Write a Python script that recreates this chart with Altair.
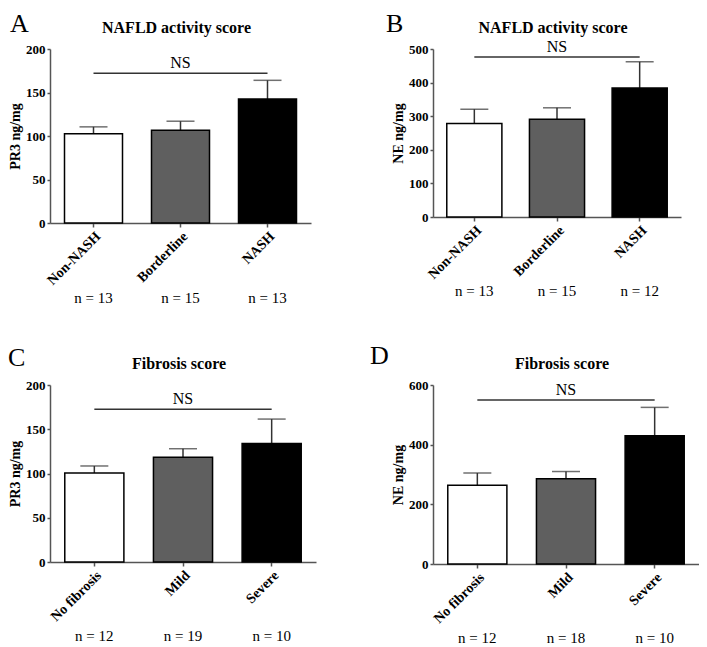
import altair as alt
import pandas as pd

SERIF = "Liberation Serif"

nafld_cats = ["Non-NASH", "Borderline", "NASH"]
fib_cats = ["No fibrosis", "Mild", "Severe"]

a_mean = [102.5, 106.5, 142.5]
a_top = [110.5, 117.0, 164.0]
a_n = [13, 15, 13]
a_ns = 172

b_mean = [278, 291, 384]
b_top = [321, 325, 462]
b_n = [13, 15, 12]
b_ns = 476

c_mean = [100.5, 118.5, 134.0]
c_top = [108.5, 128.0, 161.5]
c_n = [12, 19, 10]
c_ns = 172.5

d_mean = [264, 286, 430]
d_top = [305, 310, 525]
d_n = [12, 18, 10]
d_ns = 550

fills = ["white", "#5f5f5f", "black"]


def panel(cats, means, tops, ns, ns_level, ymax, ystep, ytitle, title, letter,
          width, height, letter_dx, letter_dy, n_off):
    df = pd.DataFrame({"cat": cats, "mean": means, "top": tops,
                       "n": [f"n = {v}" for v in ns]})
    ns_df = pd.DataFrame({"x1": [cats[0]], "x2": [cats[-1]], "mid": [cats[1]],
                          "level": [ns_level]})
    xscale = alt.Scale(domain=cats, paddingInner=1 / 3, paddingOuter=1 / 6)
    xaxis = alt.Axis(title=None, labelAngle=-45, labelFont=SERIF, labelFontWeight="bold",
                     labelFontSize=14, labelColor="black", tickSize=4, tickColor="#555",
                     domainColor="#555", domainWidth=1.5, tickWidth=1.5, labelPadding=2)
    yscale = alt.Scale(domain=[0, ymax], nice=False)
    yaxis = alt.Axis(title=ytitle, values=list(range(0, ymax + 1, ystep)), labelFont=SERIF,
                     labelFontWeight="bold", labelFontSize=13, labelColor="black",
                     titleFont=SERIF, titleFontWeight="bold", titleFontSize=14,
                     titleColor="black", tickSize=3, tickColor="#555", domainColor="#555",
                     domainWidth=1.5, tickWidth=1.5, labelPadding=2, titlePadding=3,
                     grid=False)
    x = alt.X("cat:N", scale=xscale, axis=xaxis)
    base = alt.Chart(df)
    err = base.mark_rule(color="#333", strokeWidth=1.5).encode(
        x=x, y=alt.Y("mean:Q", scale=yscale, axis=yaxis), y2="top:Q")
    cap = base.mark_tick(color="#333", thickness=1.5, size=28).encode(
        x=x, y=alt.Y("top:Q", scale=yscale, axis=yaxis))
    bars = base.mark_bar(stroke="black", strokeWidth=1.5).encode(
        x=x, y=alt.Y("mean:Q", scale=yscale, axis=yaxis),
        fill=alt.Fill("cat:N", scale=alt.Scale(domain=cats, range=fills), legend=None))
    nlab = base.mark_text(font=SERIF, fontSize=15, baseline="alphabetic", color="black").encode(
        x=x, y=alt.value(height + n_off), text="n:N")
    nsb = alt.Chart(ns_df)
    nsline = nsb.mark_rule(color="#333", strokeWidth=1.5).encode(
        x=alt.X("x1:N", scale=xscale, axis=xaxis), x2="x2:N",
        y=alt.Y("level:Q", scale=yscale, axis=yaxis))
    nstext = nsb.mark_text(font=SERIF, fontSize=16, baseline="alphabetic", dy=-5,
                           color="black").encode(
        x=alt.X("mid:N", scale=xscale, axis=xaxis),
        y=alt.Y("level:Q", scale=yscale, axis=yaxis), text=alt.value("NS"))
    ttl = nsb.mark_text(font=SERIF, fontSize=16, fontWeight="bold", baseline="alphabetic",
                        color="black").encode(
        x=alt.value(width / 2 - 4), y=alt.value(-16), text=alt.value(title))
    let = nsb.mark_text(font=SERIF, fontSize=26, align="left", baseline="alphabetic",
                        color="black").encode(
        x=alt.value(letter_dx), y=alt.value(letter_dy), text=alt.value(letter))
    return alt.layer(err, cap, bars, nsline, nstext, nlab, ttl, let).properties(
        width=width, height=height)


pa = panel(nafld_cats, a_mean, a_top, a_n, a_ns, 200, 50, "PR3 ng/mg",
           "NAFLD activity score", "A", 261, 174, -40, -17, 80)
pb = panel(nafld_cats, b_mean, b_top, b_n, b_ns, 500, 100, "NE ng/mg",
           "NAFLD activity score", "B", 248, 168, -47, -17, 79)
pc = panel(fib_cats, c_mean, c_top, c_n, c_ns, 200, 50, "PR3 ng/mg",
           "Fibrosis score", "C", 266, 177, -42, -19, 79)
pd_ = panel(fib_cats, d_mean, d_top, d_n, d_ns, 600, 200, "NE ng/mg",
            "Fibrosis score", "D", 266, 179, -63, -21, 79)

chart = alt.concat(pa, pb, pc, pd_, columns=2, spacing={"row": 162, "column": 117},
                   bounds="flush", align="none").properties(
    padding={"left": 0, "top": 3, "right": 0, "bottom": 0}, background="white"
).configure_view(stroke=None)

chart.save("out.html", embed_options={"renderer": "svg", "actions": False})
